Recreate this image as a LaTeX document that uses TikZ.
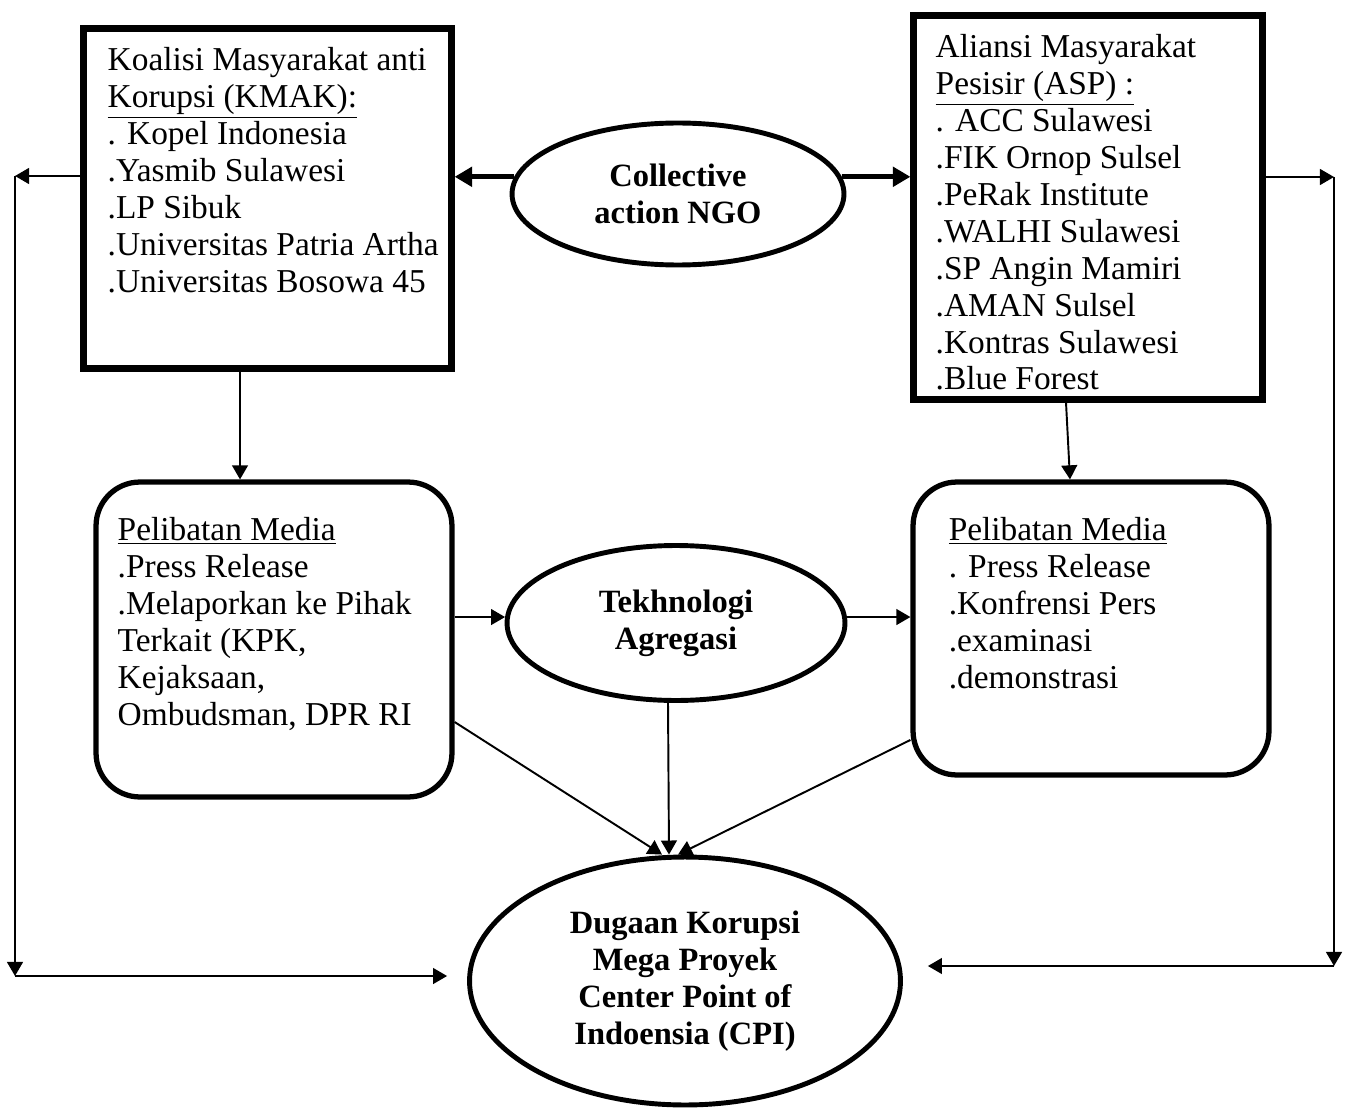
\documentclass[tikz,border=0pt]{standalone}
\usepackage{fontspec}
\setmainfont{Liberation Serif}
\usetikzlibrary{positioning, arrows.meta, shapes.geometric}

\begin{document}
\begin{tikzpicture}[
		x=0.02cm, y=-0.02cm,
		kotak/.style={
			rectangle,
			draw,
			line width=3.6pt,
			inner sep=0pt
		},
		bulat/.style={
			rectangle,
			rounded corners=25pt,
			draw,
			line width=3pt,
			inner sep=0pt
		},
		elips/.style={
			ellipse,
			draw,
			line width=2.8pt,
			inner sep=0pt,
			align=center,
			font=\fontsize{18.5}{21}\selectfont\bfseries
		},
		isi/.style={
			inner sep=0pt,
			align=left,
			anchor=north west,
			font=\fontsize{19}{21}\selectfont
		},
		panah/.style={
			-{Triangle[length=8pt,width=9pt]},
			line width=1.1pt
		},
		panahtebal/.style={
			-{Triangle[length=10pt,width=11pt]},
			line width=2.8pt
		}
		]
		\useasboundingbox (0,0) rectangle (1348,1111);
		% Kotak atas
		\node[kotak, minimum width=7.36cm, minimum height=6.8cm] (kmak) at (267.5,198.5) {};
		\node[kotak, minimum width=6.98cm, minimum height=7.68cm] (asp) at (1088,207.5) {};
		\node[isi, below right=0.44cm and 0.54cm of kmak.north west]
		(kmaktxt)
		{Koalisi Masyarakat anti\\\underline{Korupsi (KMAK):}\\. Kopel Indonesia\\.Yasmib Sulawesi\\.LP Sibuk\\.Universitas Patria Artha\\.Universitas Bosowa 45};
		\node[isi, below right=0.44cm and 0.5cm of asp.north west]
		(asptxt)
		{Aliansi Masyarakat\\\underline{Pesisir (ASP) :}\\. ACC Sulawesi\\.FIK Ornop Sulsel\\.PeRak Institute\\.WALHI Sulawesi\\.SP Angin Mamiri\\.AMAN Sulsel\\.Kontras Sulawesi\\.Blue Forest};
		% Kotak tengah
		\node[bulat, minimum width=7.12cm, minimum height=6.3cm] (mediakiri) at (274,639.5) {};
		\node[bulat, minimum width=7.12cm, minimum height=5.86cm] (mediakanan) at (1091,628.5) {};
		\node[isi, below right=0.76cm and 0.48cm of mediakiri.north west]
		(mediakiritxt)
		{\underline{Pelibatan Media}\\.Press Release\\.Melaporkan ke Pihak\\Terkait (KPK,\\Kejaksaan,\\Ombudsman, DPR RI};
		\node[isi, below right=0.76cm and 0.76cm of mediakanan.north west]
		(mediakanantxt)
		{\underline{Pelibatan Media}\\. Press Release\\.Konfrensi Pers\\.examinasi\\.demonstrasi};
		% Elips
		\node[elips, minimum width=6.64cm, minimum height=2.84cm] (ngo) at (678,194)
		{Collective\\action NGO};
		\node[elips, minimum width=6.76cm, minimum height=3.1cm] (tekh) at (676,623)
		{Tekhnologi\\Agregasi};
		\node[elips, minimum width=8.62cm, minimum height=4.96cm] (cpi) at (685,981)
		{Dugaan Korupsi\\Mega Proyek\\Center Point of\\Indoensia (CPI)};
		% Titik sudut
		\coordinate (kiriatas) at (15,176);
		\coordinate (kiribawah) at (15,976);
		\coordinate (kananatas) at (1334,177);
		\coordinate (kananbawah) at (1334,966);
		% Panah
		\draw[panahtebal] (ngo.174) -- (kmak.east |- ngo.174);
		\draw[panahtebal] (ngo.6) -- (asp.west |- ngo.6);
		\draw[panah] ([xshift=-0.55cm]kmak.south) -- ([xshift=-0.68cm]mediakiri.north);
		\draw[panah] ([xshift=-0.44cm]asp.south) -- ([xshift=-0.42cm]mediakanan.north);
		\draw[panah] (mediakiri.east |- tekh.178) -- (tekh.178);
		\draw[panah] (tekh.2) -- (mediakanan.west |- tekh.2);
		\draw[panah] ([yshift=-1.65cm]mediakiri.east) -- ([xshift=-0.46cm]cpi.north);
		\draw[panah] ([xshift=-0.16cm]tekh.south) -- ([xshift=-0.32cm]cpi.north);
		\draw[panah] ([yshift=-2.23cm]mediakanan.west) -- ([xshift=-0.14cm]cpi.north);
		\draw[panah] (kmak.west |- kiriatas) -- (kiriatas);
		\draw[panah] (kiriatas) -- (kiribawah);
		\draw[panah, shorten >=0.4cm] (kiribawah) -- (cpi.west |- kiribawah);
		\draw[panah] (asp.east |- kananatas) -- (kananatas);
		\draw[panah] (kananatas) -- (kananbawah);
		\draw[panah, shorten >=0.5cm] (kananbawah) -- (cpi.east |- kananbawah);
	\end{tikzpicture}
\end{document}
